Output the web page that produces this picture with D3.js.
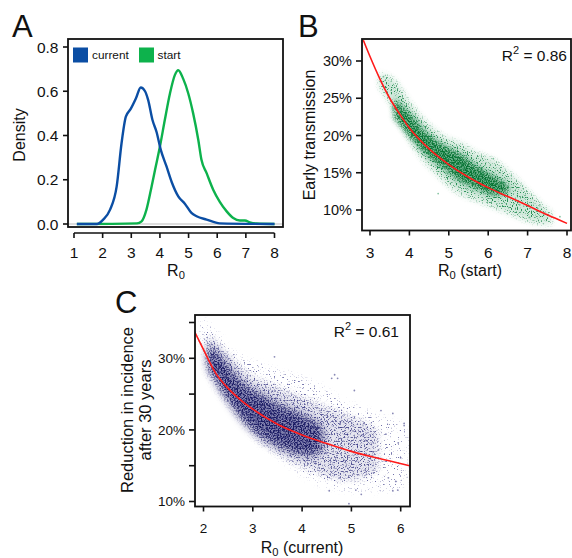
<!DOCTYPE html>
<html>
<head>
<meta charset="utf-8">
<script src="https://cdn.jsdelivr.net/npm/d3@7"></script>
<style>
  body { margin: 0; background: #fff; }
  svg text { font-family: 'Liberation Sans', Arial, sans-serif; fill: #111; }
</style>
</head>
<body>
<svg id="chart" width="572" height="558"></svg>
<script>
// ---- panel A: density of R0 ----
const current_r0 = [1.1, 1.8, 2.02, 2.26, 2.49, 2.66, 2.81, 2.98, 3.16, 3.33, 3.48, 3.59, 3.74, 3.88, 4.03, 4.23, 4.41, 4.64, 4.87, 5.1, 5.28, 5.63, 6.09, 8.0];
const current_density = [0, 0, 0.02, 0.065, 0.17, 0.365, 0.485, 0.52, 0.567, 0.617, 0.6, 0.56, 0.47, 0.417, 0.335, 0.26, 0.19, 0.125, 0.092, 0.05, 0.035, 0.02, 0.003, 0];
const start_r0 = [1.1, 3.2, 3.36, 3.53, 3.71, 3.83, 4.0, 4.17, 4.35, 4.52, 4.64, 4.81, 4.99, 5.16, 5.34, 5.45, 5.63, 5.86, 6.09, 6.33, 6.56, 6.79, 6.97, 7.14, 7.37, 8.0];
const start_density = [0, 0.003, 0.012, 0.065, 0.17, 0.245, 0.35, 0.47, 0.59, 0.673, 0.695, 0.657, 0.59, 0.5, 0.38, 0.29, 0.23, 0.155, 0.1, 0.057, 0.027, 0.016, 0.016, 0.007, 0.002, 0];
const a_x_ticks = [1, 2, 3, 4, 5, 6, 7, 8];
const a_y_ticks = [0, 0.2, 0.4, 0.6, 0.8];
const a_legend = ['current', 'start'];

// ---- panel B: early transmission vs R0 (start) ----
const b_cloud_x = [3.25, 3.59, 4.01, 4.44, 4.86, 5.28, 5.70, 6.13, 6.55, 6.97, 7.31, 7.6];
const b_cloud_hi = [28.35, 27.45, 24.32, 21.63, 19.84, 18.95, 17.61, 16.71, 14.92, 12.68, 10.9, 9.55];
const b_cloud_lo = [26.55, 23.87, 19.4, 16.26, 14.03, 12.24, 11.34, 10.45, 9.55, 8.66, 8.21, 8.21];
const b_core_x = [3.62, 4.01, 4.44, 4.86, 5.28, 5.70, 6.13, 6.5];
const b_core_hi = [24.8, 22.8, 20.2, 18.6, 17.4, 15.8, 14.48, 13.2];
const b_core_lo = [22.4, 20.0, 17.5, 15.7, 14.0, 13.0, 12.1, 12.3];
const b_stray = [[3.34, 27.9], [4.73, 12.2], [6.13, 16.9], [6.8, 10.7], [7.31, 10.7], [7.82, 9.1], [7.05, 9.0]];
const b_fit_x = [2.83, 3.0, 3.25, 3.5, 3.75, 4.0, 4.5, 5.0, 5.5, 6.0, 6.5, 7.0, 7.5, 8.0];
const b_fit_y = [32.8, 30.6, 27.6, 25.0, 22.9, 21.0, 18.2, 16.1, 14.4, 13.0, 11.8, 10.6, 9.35, 8.2];
const b_x_ticks = [3, 4, 5, 6, 7, 8];
const b_y_ticks = [10, 15, 20, 25, 30];

// ---- panel C: reduction in incidence vs R0 (current) ----
const c_cloud_x = [1.95, 2.22, 2.49, 2.83, 3.17, 3.51, 3.85, 4.18, 4.52, 4.86, 5.20, 5.53, 5.87, 6.11];
const c_cloud_hi = [35.6, 33.74, 31.4, 30.0, 29.06, 28.12, 27.65, 26.72, 25.31, 23.91, 22.97, 22.04, 21.1, 20.63];
const c_cloud_lo = [32.34, 27.65, 24.85, 22.04, 18.76, 16.42, 14.55, 13.14, 12.2, 11.74, 11.5, 11.5, 11.74, 12.67];
const c_mid_x = [2.09, 2.49, 2.83, 3.17, 3.51, 3.85, 4.18, 4.52, 4.86, 5.20, 5.53];
const c_mid_hi = [33.27, 30.46, 28.12, 26.72, 25.78, 24.85, 23.91, 22.97, 22.04, 21.1, 19.7];
const c_mid_lo = [28.12, 23.91, 21.1, 18.29, 16.89, 15.48, 14.55, 13.61, 13.14, 13.4, 14.5];
const c_core_x = [2.09, 2.36, 2.63, 2.90, 3.17, 3.51, 3.85, 4.18, 4.4];
const c_core_hi = [31.87, 30.0, 27.65, 25.78, 24.85, 23.44, 22.5, 21.3, 20.3];
const c_core_lo = [29.06, 25.78, 22.97, 20.63, 19.23, 17.82, 16.89, 16.6, 17.2];
const c_stray = [[3.44, 30.2], [4.6, 27.2], [4.66, 27.7], [4.72, 27.2], [5.06, 25.5], [5.6, 22.7], [5.84, 22.3], [6.07, 20.6],
                 [6.07, 20.9], [5.94, 11.6], [5.9, 12.8], [5.84, 11.5], [5.09, 11.6], [4.95, 9.7], [4.55, 11.5], [5.2, 11.0],
                 [5.3, 18.5], [5.55, 17.2], [5.7, 19.4], [5.45, 14.0], [5.75, 13.3], [6.0, 16.1], [5.25, 20.9], [5.95, 18.2]];
const c_fit_x = [1.82, 2.0, 2.25, 2.5, 2.75, 3.0, 3.5, 4.0, 4.5, 5.0, 5.5, 6.18];
const c_fit_y = [33.7, 31.2, 27.9, 25.8, 24.2, 22.9, 20.8, 19.3, 18.1, 17.0, 16.1, 15.0];
const c_x_ticks = [2, 3, 4, 5, 6];
const c_y_ticks = [10, 15, 20, 25, 30, 35];

const blue = '#0b4ea4';
const green = '#0db24c';
const red = '#ff1a1a';

const svg = d3.select('#chart');
const defs = svg.append('defs');

//speckle filter: noise dots kept only inside the (blurred) shape
function add_speckle(id, rgb, gain, offset, seed, blur, freq) {
  let f = defs.append('filter')
    .attr('id', id)
    .attr('filterUnits', 'userSpaceOnUse')
    .attr('x', 0).attr('y', 0).attr('width', 572).attr('height', 558)
    .attr('color-interpolation-filters', 'sRGB');
  f.append('feGaussianBlur')
    .attr('in', 'SourceAlpha')
    .attr('stdDeviation', blur)
    .attr('result', 'soft');
  f.append('feTurbulence')
    .attr('type', 'fractalNoise')
    .attr('baseFrequency', freq)
    .attr('numOctaves', 1)
    .attr('seed', seed)
    .attr('result', 'noise');
  f.append('feColorMatrix')
    .attr('in', 'noise')
    .attr('type', 'matrix')
    .attr('values', `0 0 0 0 ${rgb[0]}  0 0 0 0 ${rgb[1]}  0 0 0 0 ${rgb[2]}  ${gain} 0 0 0 ${offset}`)
    .attr('result', 'dots');
  f.append('feComposite')
    .attr('in', 'dots')
    .attr('in2', 'soft')
    .attr('operator', 'in');
}

function add_blur(id, sd) {
  defs.append('filter')
    .attr('id', id)
    .attr('filterUnits', 'userSpaceOnUse')
    .attr('x', 0).attr('y', 0).attr('width', 572).attr('height', 558)
    .append('feGaussianBlur')
    .attr('stdDeviation', sd);
}

add_speckle('b_sparse', [0.05, 0.5, 0.25], 10, -5.6, 3, 2.5, 0.8);
add_speckle('b_dense', [0.03, 0.45, 0.2], 6, -2.5, 7, 2.5, 0.8);
add_speckle('c_sparse', [0.2, 0.2, 0.52], 10, -6.3, 11, 3, 0.7);
add_speckle('c_mid', [0.15, 0.15, 0.47], 8, -4.3, 5, 3.5, 0.7);
add_speckle('c_dense', [0.1, 0.1, 0.38], 6, -2.7, 9, 3, 0.75);
add_blur('soft_core', 3);
add_blur('soft_wide', 5);

function add_clip(id, box) {
  defs.append('clipPath').attr('id', id)
    .append('rect')
    .attr('x', box.left).attr('y', box.top)
    .attr('width', box.right - box.left).attr('height', box.bottom - box.top);
}

function draw_box(box) {
  svg.append('rect')
    .attr('x', box.left).attr('y', box.top)
    .attr('width', box.right - box.left).attr('height', box.bottom - box.top)
    .attr('fill', 'none')
    .attr('stroke', '#111')
    .attr('stroke-width', 1.8);
}

//ticks pointing left, labels right aligned
function draw_y_axis(scale, ticks, x0, tick_len, label_x, font_size, fmt, labelled) {
  let g = svg.append('g');
  ticks.forEach(t => {
    g.append('line')
      .attr('x1', x0 - tick_len).attr('x2', x0)
      .attr('y1', scale(t)).attr('y2', scale(t))
      .attr('stroke', '#111').attr('stroke-width', 1.6);
    if(labelled(t))
      g.append('text')
        .attr('x', label_x).attr('y', scale(t))
        .attr('dy', '0.36em')
        .attr('text-anchor', 'end')
        .attr('font-size', font_size)
        .text(fmt(t));
  });
}

function draw_x_axis(scale, ticks, y0, tick_len, label_y, font_size, with_line) {
  let g = svg.append('g');
  if(with_line)
    g.append('line')
      .attr('x1', scale(ticks[0])).attr('x2', scale(ticks[ticks.length - 1]))
      .attr('y1', y0).attr('y2', y0)
      .attr('stroke', '#111').attr('stroke-width', 1.6);
  ticks.forEach(t => {
    g.append('line')
      .attr('x1', scale(t)).attr('x2', scale(t))
      .attr('y1', y0).attr('y2', y0 + tick_len)
      .attr('stroke', '#111').attr('stroke-width', 1.6);
    g.append('text')
      .attr('x', scale(t)).attr('y', label_y)
      .attr('text-anchor', 'middle')
      .attr('font-size', font_size)
      .text(t);
  });
}

//R0 with subscript, plus optional suffix
function r0_label(x, y, size, suffix) {
  let t = svg.append('text')
    .attr('x', x).attr('y', y)
    .attr('text-anchor', 'middle')
    .attr('font-size', size);
  t.append('tspan').text('R');
  t.append('tspan').attr('font-size', size * 0.7).attr('dy', 3).text('0');
  if(suffix)
    t.append('tspan').attr('dy', -3).text(suffix);
}

function r2_label(x, y, value) {
  let t = svg.append('text')
    .attr('x', x).attr('y', y)
    .attr('text-anchor', 'end')
    .attr('font-size', 15.5);
  t.append('tspan').text('R');
  t.append('tspan').attr('font-size', 11).attr('dy', -7).text('2');
  t.append('tspan').attr('dy', 7).text(' = ' + value);
}

function panel_letter(x, y, letter) {
  svg.append('text')
    .attr('x', x).attr('y', y)
    .attr('font-size', 31)
    .text(letter);
}

function band(xs, hi, lo, xscale, yscale) {
  let rows = xs.map((x, i) => ({x: x, hi: hi[i], lo: lo[i]}));
  return d3.area()
    .x(d => xscale(d.x))
    .y0(d => yscale(d.lo))
    .y1(d => yscale(d.hi))
    .curve(d3.curveCatmullRom)(rows);
}

function fit_line(xs, ys, xscale, yscale) {
  return d3.line()
    .x(d => xscale(d[0]))
    .y(d => yscale(d[1]))
    .curve(d3.curveMonotoneX)(xs.map((x, i) => [x, ys[i]]));
}

// ================= panel A =================
const a_box = {left: 68, top: 39, right: 283, bottom: 227};
const a_x = d3.scaleLinear().domain([1, 8]).range([74, 274.5]);
const a_y = d3.scaleLinear().domain([0, 0.8]).range([224, 47]);

svg.append('line') //grey zero line
  .attr('x1', a_box.left).attr('x2', a_box.right)
  .attr('y1', a_y(0)).attr('y2', a_y(0))
  .attr('stroke', '#bbb').attr('stroke-width', 1);

const density_line = d3.line()
  .x(d => a_x(d[0]))
  .y(d => a_y(d[1]))
  .curve(d3.curveMonotoneX);

svg.append('path')
  .attr('d', density_line(start_r0.map((x, i) => [x, start_density[i]])))
  .attr('fill', 'none').attr('stroke', green).attr('stroke-width', 2.4);
svg.append('path')
  .attr('d', density_line(current_r0.map((x, i) => [x, current_density[i]])))
  .attr('fill', 'none').attr('stroke', blue).attr('stroke-width', 2.4);

draw_box(a_box);
draw_y_axis(a_y, a_y_ticks, a_box.left, 5, 58.5, 15.5, d3.format('.1f'), () => true);
draw_x_axis(a_x, a_x_ticks, 233, 5, 258, 15.5, true);

//legend
const legend_pos = [{sq: 73, tx: 92, col: blue}, {sq: 139, tx: 157.5, col: green}];
a_legend.forEach((name, i) => {
  svg.append('rect')
    .attr('x', legend_pos[i].sq).attr('y', 47.5)
    .attr('width', 15).attr('height', 15)
    .attr('fill', legend_pos[i].col);
  svg.append('text')
    .attr('x', legend_pos[i].tx).attr('y', 58.5)
    .attr('font-size', 11.8)
    .text(name);
});

svg.append('text')
  .attr('transform', 'translate(25,135) rotate(-90)')
  .attr('text-anchor', 'middle')
  .attr('font-size', 16)
  .text('Density');
r0_label(176, 276, 16);
panel_letter(12, 37, 'A');

// ================= panel B =================
const b_box = {left: 362, top: 39, right: 571, bottom: 230.5};
const b_x = d3.scaleLinear().domain([3, 8]).range([370, 567]);
const b_y = d3.scaleLinear().domain([10, 30]).range([210, 61]);
add_clip('b_clip', b_box);

const b_layer = svg.append('g').attr('clip-path', 'url(#b_clip)');
b_layer.append('path')
  .attr('d', band(b_cloud_x, b_cloud_hi, b_cloud_lo, b_x, b_y))
  .attr('fill', '#000').attr('filter', 'url(#b_sparse)').attr('opacity', 0.85);
b_layer.append('path')
  .attr('d', band(b_cloud_x, b_cloud_hi, b_cloud_lo, b_x, b_y))
  .attr('fill', '#0c8a44').attr('opacity', 0.2).attr('filter', 'url(#soft_core)');
b_layer.append('path')
  .attr('d', band(b_core_x, b_core_hi, b_core_lo, b_x, b_y))
  .attr('fill', '#0a8040').attr('opacity', 0.55).attr('filter', 'url(#soft_core)');
b_layer.append('path')
  .attr('d', band(b_core_x, b_core_hi, b_core_lo, b_x, b_y))
  .attr('fill', '#000').attr('filter', 'url(#b_dense)');
b_layer.selectAll('circle.stray')
  .data(b_stray)
  .join('circle')
  .attr('cx', d => b_x(d[0])).attr('cy', d => b_y(d[1]))
  .attr('r', 0.9).attr('fill', '#0c8a44').attr('opacity', 0.5);
b_layer.append('path')
  .attr('d', fit_line(b_fit_x, b_fit_y, b_x, b_y))
  .attr('fill', 'none').attr('stroke', red).attr('stroke-width', 1.6);

draw_box(b_box);
draw_y_axis(b_y, b_y_ticks, b_box.left, 6, 352, 14.5, d => d + '%', () => true);
draw_x_axis(b_x, b_x_ticks, b_box.bottom, 5, 258, 15.5, false);
svg.append('text')
  .attr('transform', 'translate(314.5,135) rotate(-90)')
  .attr('text-anchor', 'middle')
  .attr('font-size', 16)
  .text('Early transmission');
r0_label(470, 276, 16, ' (start)');
r2_label(567, 60.5, '0.86');
panel_letter(298, 37, 'B');

// ================= panel C =================
const c_box = {left: 195, top: 315, right: 410, bottom: 506.5};
const c_x = d3.scaleLinear().domain([2, 6]).range([203.5, 400.7]);
const c_y = d3.scaleLinear().domain([10, 30]).range([501.5, 358.3]);
add_clip('c_clip', c_box);

const c_layer = svg.append('g').attr('clip-path', 'url(#c_clip)');
c_layer.append('path')
  .attr('d', band(c_cloud_x, c_cloud_hi, c_cloud_lo, c_x, c_y))
  .attr('fill', '#000').attr('filter', 'url(#c_sparse)').attr('opacity', 0.7);
c_layer.append('path')
  .attr('d', band(c_mid_x, c_mid_hi, c_mid_lo, c_x, c_y))
  .attr('fill', '#000').attr('filter', 'url(#c_mid)').attr('opacity', 0.7);
c_layer.append('path')
  .attr('d', band(c_mid_x, c_mid_hi, c_mid_lo, c_x, c_y))
  .attr('fill', '#2a2a7a').attr('opacity', 0.12).attr('filter', 'url(#soft_core)');
c_layer.append('path')
  .attr('d', band(c_core_x, c_core_hi, c_core_lo, c_x, c_y))
  .attr('fill', '#1f1f6e').attr('opacity', 0.5).attr('filter', 'url(#soft_wide)');
c_layer.append('path')
  .attr('d', band(c_core_x, c_core_hi, c_core_lo, c_x, c_y))
  .attr('fill', '#000').attr('filter', 'url(#c_dense)');
c_layer.selectAll('circle.stray')
  .data(c_stray)
  .join('circle')
  .attr('cx', d => c_x(d[0])).attr('cy', d => c_y(d[1]))
  .attr('r', 0.9).attr('fill', '#2a2a7a').attr('opacity', 0.55);
c_layer.append('path')
  .attr('d', fit_line(c_fit_x, c_fit_y, c_x, c_y))
  .attr('fill', 'none').attr('stroke', red).attr('stroke-width', 1.6);

draw_box(c_box);
draw_y_axis(c_y, c_y_ticks, c_box.left, 6, 185, 13.5, d => d + '%', t => t % 10 === 0);
draw_x_axis(c_x, c_x_ticks, c_box.bottom, 5, 533, 13.5, false);
const c_ylab = svg.append('text')
  .attr('transform', 'translate(132.5,410) rotate(-90)')
  .attr('text-anchor', 'middle')
  .attr('font-size', 16.5);
c_ylab.append('tspan').attr('x', 0).attr('dy', 0).text('Reduction in incidence');
c_ylab.append('tspan').attr('x', 0).attr('dy', 18).text('after 30 years');
r0_label(302, 553, 16, ' (current)');
r2_label(399, 336.5, '0.61');
panel_letter(115, 313, 'C');
</script>
</body>
</html>
